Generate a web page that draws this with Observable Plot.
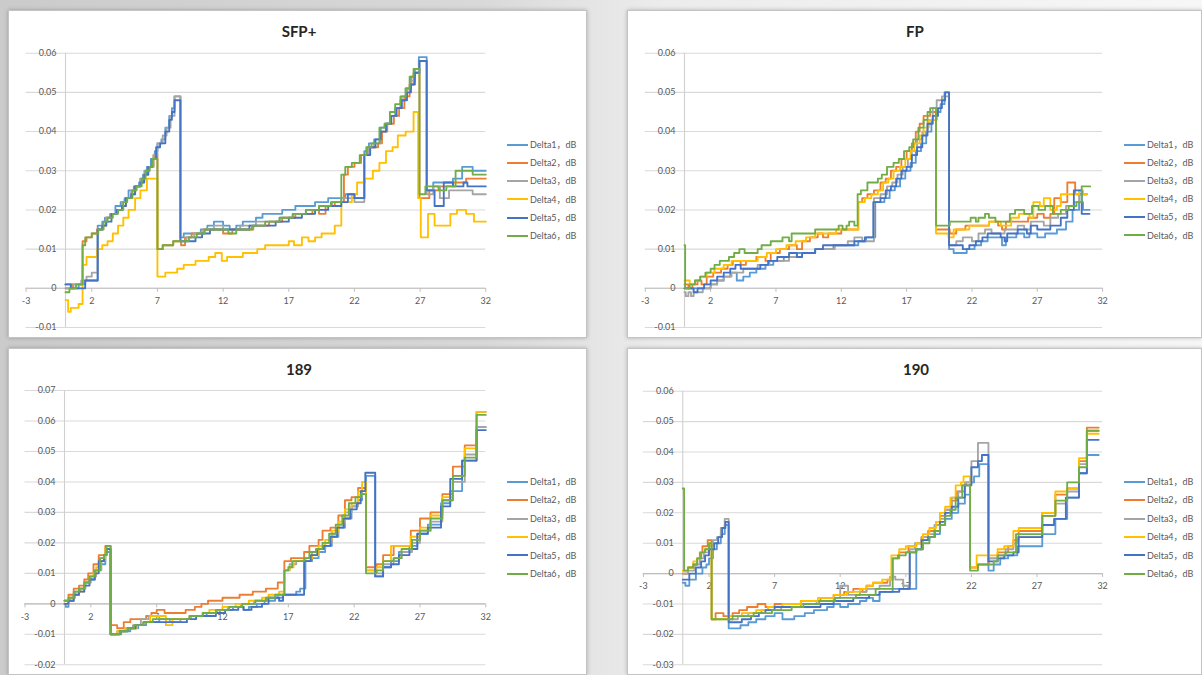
<!DOCTYPE html>
<html>
<head>
<meta charset="utf-8">
<script src="https://cdn.jsdelivr.net/npm/d3@7"></script>
<script src="https://cdn.jsdelivr.net/npm/@observablehq/plot@0.6"></script>
<style>
  html, body { margin: 0; padding: 0; }
  body {
    width: 1202px; height: 675px; overflow: hidden; position: relative;
    background: linear-gradient(to right, #cbcbcb 0%, #d9d9d9 40%, #ececec 55%, #f7f7f7 100%);
    font-family: Lato, "Noto Sans CJK SC", sans-serif;
  }
  .panel {
    position: absolute; background: #ffffff;
    border: 1px solid #c4c4c4;
    box-shadow: 0 0 4px rgba(0,0,0,0.25);
    box-sizing: border-box; overflow: hidden;
  }
  .panel svg { position: absolute; left: 0; top: 0; }
  .title {
    position: absolute; transform: translate(-50%, -50%);
    font-weight: bold; font-size: 15px; color: #262626; white-space: nowrap;
  }
  .leg { position: absolute; font-size: 9px; color: #595959; white-space: nowrap; line-height: 10px; }
  .leg span.sw { display: inline-block; width: 21px; height: 2px; vertical-align: middle; margin-right: 2px; position: relative; top: -1px; }
</style>
</head>
<body>
<script>
// ---------- shared ----------
const xTicks = [-3, 2, 7, 12, 17, 22, 27, 32];
const seriesNames = ["Delta1，dB", "Delta2，dB", "Delta3，dB", "Delta4，dB", "Delta5，dB", "Delta6，dB"];
const seriesColors = ["#5B9BD5", "#ED7D31", "#A5A5A5", "#FFC000", "#4472C4", "#70AD47"];

// ---------- SFP+ ----------
const sfpTitle = "SFP+";
const sfpYTicks = [-0.01, 0, 0.01, 0.02, 0.03, 0.04, 0.05, 0.06];
const sfpD1 = [[0,0.001],[0.5,0.0],[1.0,0.001],[1.5,0.002],[2.45,0.016],[2.8,0.017],[3.0,0.018],[3.4,0.019],[3.8,0.021],[4.2,0.022],[4.5,0.023],[4.8,0.025],[5.2,0.026],[5.6,0.027],[5.9,0.029],[6.2,0.031],[6.5,0.033],[6.8,0.035],[7.0,0.037],[7.3,0.038],[7.6,0.041],[7.9,0.044],[8.1,0.046],[8.3,0.049],[8.75,0.013],[9.0,0.014],[10.3,0.015],[10.8,0.016],[11.3,0.017],[12.0,0.016],[12.5,0.015],[13.0,0.016],[13.5,0.017],[14.5,0.018],[15.0,0.019],[16.5,0.020],[17.5,0.021],[19.0,0.022],[20.0,0.023],[21.3,0.024],[22.0,0.023],[22.75,0.035],[23.1,0.037],[23.5,0.038],[24.0,0.041],[24.3,0.042],[24.7,0.044],[25.1,0.046],[25.5,0.048],[25.9,0.051],[26.3,0.054],[26.6,0.056],[26.9,0.059],[27.5,0.025],[28.0,0.027],[29.5,0.028],[30.2,0.031],[31.0,0.030],[32,0.030]];
const sfpD2 = [[0,0.0],[0.5,0.001],[1.3,0.012],[1.6,0.013],[2.0,0.014],[2.4,0.015],[2.8,0.016],[3.1,0.018],[3.5,0.019],[3.9,0.020],[4.3,0.021],[4.6,0.023],[5.0,0.024],[5.3,0.026],[5.7,0.028],[6.0,0.029],[6.3,0.031],[6.7,0.034],[7.0,0.010],[7.4,0.011],[8.2,0.012],[8.8,0.011],[9.1,0.013],[9.6,0.014],[10.5,0.015],[12.0,0.014],[12.7,0.015],[14.3,0.016],[15.5,0.017],[16.5,0.018],[17.5,0.019],[18.8,0.020],[19.3,0.019],[19.8,0.021],[20.5,0.022],[21.2,0.029],[21.5,0.031],[22.0,0.032],[22.5,0.034],[23.0,0.036],[23.8,0.037],[24.1,0.040],[24.5,0.042],[25.0,0.044],[25.4,0.046],[25.8,0.049],[26.2,0.052],[26.5,0.055],[26.95,0.023],[27.7,0.025],[28.5,0.026],[29.5,0.027],[30.5,0.028],[32,0.028]];
const sfpD3 = [[0,0.0],[0.6,0.001],[1.2,0.002],[1.6,0.003],[2.0,0.004],[2.45,0.015],[2.8,0.016],[3.1,0.018],[3.5,0.019],[3.9,0.020],[4.3,0.022],[4.6,0.023],[5.0,0.025],[5.4,0.026],[5.7,0.028],[6.0,0.030],[6.4,0.031],[6.7,0.034],[7.0,0.037],[7.4,0.039],[7.7,0.041],[8.0,0.044],[8.3,0.049],[8.75,0.012],[9.2,0.013],[9.8,0.014],[10.5,0.015],[11.3,0.016],[12.0,0.015],[13.3,0.016],[14.5,0.017],[16.3,0.018],[17.3,0.019],[18.3,0.020],[19.3,0.021],[20.3,0.022],[21.0,0.023],[22.0,0.022],[22.75,0.034],[23.1,0.036],[23.5,0.037],[24.0,0.040],[24.4,0.042],[24.8,0.044],[25.2,0.046],[25.6,0.049],[26.0,0.051],[26.3,0.053],[26.6,0.055],[26.95,0.058],[27.5,0.024],[28.0,0.026],[28.5,0.023],[29.2,0.025],[31.0,0.024],[32,0.024]];
const sfpD4 = [[0,-0.003],[0.2,-0.006],[0.4,-0.005],[1.0,-0.004],[1.3,0.006],[1.6,0.008],[2.4,0.010],[2.8,0.011],[3.2,0.012],[3.6,0.014],[4.0,0.016],[4.4,0.018],[4.8,0.020],[5.3,0.023],[5.7,0.025],[6.2,0.028],[7.0,0.003],[7.6,0.004],[8.5,0.005],[9.0,0.006],[9.9,0.007],[10.9,0.008],[11.4,0.009],[11.9,0.007],[12.3,0.008],[13.5,0.009],[14.6,0.010],[15.2,0.011],[16.2,0.011],[17.0,0.012],[17.4,0.011],[18.0,0.013],[18.5,0.012],[19.0,0.013],[19.5,0.014],[20.5,0.016],[21.0,0.022],[21.8,0.024],[22.2,0.027],[22.8,0.028],[23.4,0.030],[23.9,0.032],[24.4,0.035],[24.9,0.036],[25.3,0.039],[25.9,0.040],[26.5,0.045],[26.85,0.023],[27.05,0.013],[27.6,0.019],[28.1,0.016],[29.3,0.019],[29.8,0.020],[30.5,0.019],[31.1,0.017],[32,0.017]];
const sfpD5 = [[0,0.001],[0.4,0.0],[1.5,0.002],[2.45,0.015],[2.8,0.016],[3.1,0.017],[3.5,0.019],[3.9,0.020],[4.3,0.021],[4.6,0.023],[5.0,0.024],[5.3,0.026],[5.7,0.027],[6.0,0.029],[6.3,0.031],[6.6,0.033],[6.9,0.036],[7.2,0.037],[7.6,0.040],[7.9,0.043],[8.1,0.045],[8.3,0.048],[8.75,0.012],[9.9,0.013],[10.4,0.014],[11.0,0.015],[14.0,0.016],[16.0,0.017],[17.0,0.018],[18.0,0.019],[19.0,0.020],[20.0,0.021],[21.0,0.022],[21.5,0.024],[22.0,0.023],[22.75,0.034],[23.2,0.036],[23.6,0.038],[24.0,0.040],[24.4,0.042],[24.8,0.044],[25.2,0.046],[25.6,0.048],[26.0,0.050],[26.3,0.052],[26.6,0.055],[26.95,0.058],[27.5,0.025],[28.1,0.021],[28.8,0.027],[29.5,0.026],[30.3,0.027],[30.6,0.026],[32,0.026]];
const sfpD6 = [[0,-0.001],[0.3,0.0],[0.8,0.001],[1.3,0.011],[1.5,0.013],[2.0,0.014],[2.5,0.015],[2.9,0.017],[3.2,0.018],[3.6,0.019],[4.0,0.020],[4.4,0.022],[4.7,0.023],[5.1,0.025],[5.4,0.026],[5.8,0.028],[6.1,0.030],[6.4,0.031],[6.6,0.033],[7.0,0.010],[7.4,0.011],[8.2,0.012],[9.4,0.013],[10.0,0.014],[10.6,0.015],[12.4,0.014],[13.0,0.015],[14.2,0.016],[15.2,0.017],[16.3,0.018],[17.3,0.019],[18.3,0.020],[19.3,0.021],[20.2,0.022],[21.0,0.029],[21.3,0.031],[21.8,0.032],[22.4,0.034],[22.9,0.036],[23.3,0.037],[23.9,0.041],[24.3,0.042],[24.7,0.045],[25.1,0.047],[25.5,0.049],[25.9,0.051],[26.2,0.054],[26.5,0.056],[26.95,0.024],[27.4,0.026],[28.4,0.025],[29.0,0.026],[29.7,0.030],[31.0,0.029],[32,0.029]];

// ---------- FP ----------
const fpTitle = "FP";
const fpYTicks = [-0.01, 0, 0.01, 0.02, 0.03, 0.04, 0.05, 0.06];
const fpD1 = [[0,0.0],[2.0,0.001],[2.5,0.002],[3.0,0.003],[3.5,0.004],[4.0,0.002],[4.5,0.003],[5.0,0.004],[5.5,0.005],[6.2,0.006],[6.8,0.007],[7.6,0.008],[8.6,0.009],[10.0,0.010],[11.4,0.011],[13.3,0.012],[13.9,0.013],[14.6,0.022],[15.3,0.023],[15.7,0.025],[16.1,0.026],[16.5,0.028],[16.9,0.030],[17.3,0.032],[17.7,0.035],[18.1,0.037],[18.5,0.040],[18.9,0.043],[19.3,0.045],[19.6,0.047],[19.9,0.050],[20.25,0.010],[20.6,0.009],[21.6,0.010],[22.2,0.011],[22.7,0.012],[23.2,0.013],[24.3,0.011],[24.6,0.013],[25.4,0.014],[26.0,0.013],[26.4,0.014],[27.0,0.013],[27.6,0.014],[28.5,0.015],[29.2,0.017],[29.7,0.020],[30.2,0.022],[30.5,0.020],[31.0,0.020]];
const fpD2 = [[0,0.001],[0.3,0.0],[0.6,0.001],[1.0,0.002],[1.3,0.001],[1.7,0.003],[2.2,0.004],[2.8,0.005],[3.3,0.006],[3.7,0.007],[4.3,0.006],[4.7,0.007],[5.5,0.008],[6.2,0.007],[6.6,0.009],[7.3,0.010],[8.0,0.011],[8.6,0.010],[9.0,0.012],[9.6,0.013],[10.2,0.014],[10.6,0.013],[11.0,0.014],[12.0,0.015],[13.3,0.022],[13.6,0.023],[14.0,0.024],[14.5,0.025],[15.0,0.027],[15.4,0.028],[15.8,0.030],[16.2,0.031],[16.6,0.033],[17.0,0.035],[17.4,0.037],[17.7,0.040],[18.0,0.042],[18.3,0.044],[18.8,0.045],[19.25,0.015],[20.3,0.014],[20.8,0.015],[21.5,0.016],[23.3,0.017],[24.0,0.016],[24.3,0.015],[24.6,0.017],[26.3,0.018],[27.0,0.019],[27.5,0.018],[28.0,0.019],[28.3,0.023],[28.8,0.022],[29.3,0.027],[29.9,0.024],[30.8,0.024]];
const fpD3 = [[0,-0.001],[0.1,-0.002],[0.3,-0.001],[0.5,-0.002],[0.7,-0.001],[1.4,0.0],[2.0,0.001],[2.5,0.002],[3.0,0.003],[3.6,0.004],[4.5,0.005],[5.6,0.006],[6.5,0.007],[8.0,0.008],[9.0,0.009],[10.0,0.010],[11.5,0.011],[12.5,0.012],[13.0,0.013],[13.6,0.012],[14.5,0.023],[15.0,0.024],[15.5,0.026],[15.9,0.027],[16.3,0.029],[16.7,0.031],[17.1,0.033],[17.4,0.035],[17.8,0.038],[18.2,0.040],[18.6,0.043],[19.0,0.046],[19.3,0.048],[19.7,0.049],[20.25,0.011],[20.8,0.012],[21.3,0.013],[22.0,0.012],[22.5,0.014],[23.0,0.015],[23.5,0.014],[24.5,0.015],[25.5,0.016],[26.0,0.015],[26.5,0.017],[27.5,0.016],[28.0,0.018],[28.6,0.019],[29.2,0.021],[29.8,0.022],[30.2,0.024],[30.8,0.024]];
const fpD4 = [[0,0.002],[0.4,0.001],[0.8,0.002],[1.2,0.003],[1.7,0.004],[2.3,0.005],[3.0,0.006],[3.6,0.007],[5.6,0.008],[6.3,0.009],[7.0,0.010],[7.8,0.011],[8.5,0.012],[9.3,0.013],[10.0,0.014],[11.6,0.015],[13.3,0.022],[13.8,0.023],[14.3,0.024],[14.8,0.025],[15.2,0.027],[15.6,0.028],[16.0,0.030],[16.5,0.031],[16.9,0.033],[17.3,0.035],[17.6,0.037],[18.0,0.039],[18.3,0.041],[18.7,0.043],[19.25,0.014],[20.2,0.013],[20.6,0.015],[21.8,0.016],[23.3,0.017],[24.2,0.016],[25.0,0.018],[25.6,0.019],[26.4,0.018],[26.7,0.022],[27.2,0.021],[27.5,0.023],[28.0,0.020],[28.5,0.021],[28.8,0.024],[30.2,0.025],[30.5,0.024],[30.8,0.024]];
const fpD5 = [[0,0.0],[0.7,-0.001],[1.0,0.0],[1.5,0.001],[2.0,0.002],[2.5,0.003],[3.0,0.004],[3.5,0.005],[3.9,0.006],[4.3,0.005],[5.8,0.006],[6.4,0.007],[7.1,0.008],[8.0,0.009],[8.6,0.008],[9.0,0.009],[10.0,0.010],[10.6,0.011],[13.0,0.012],[13.8,0.013],[14.45,0.022],[15.0,0.023],[15.4,0.025],[15.8,0.026],[16.2,0.028],[16.6,0.030],[17.0,0.031],[17.4,0.034],[17.8,0.036],[18.2,0.039],[18.6,0.042],[19.0,0.044],[19.4,0.046],[19.7,0.048],[19.95,0.050],[20.25,0.011],[21.3,0.010],[21.8,0.011],[22.3,0.012],[22.8,0.013],[23.2,0.014],[24.2,0.013],[24.5,0.012],[24.7,0.014],[25.5,0.015],[26.2,0.014],[26.5,0.016],[27.0,0.015],[28.0,0.016],[28.8,0.018],[29.3,0.020],[29.8,0.025],[30.4,0.019],[31.0,0.019]];
const fpD6 = [[0,0.011],[0.05,0.0],[0.4,0.001],[0.8,0.002],[1.2,0.003],[1.6,0.004],[2.0,0.005],[2.3,0.006],[2.7,0.007],[3.4,0.008],[3.8,0.009],[4.2,0.010],[4.6,0.009],[5.6,0.010],[5.9,0.011],[6.6,0.012],[7.5,0.013],[8.0,0.012],[8.2,0.014],[10.0,0.015],[11.8,0.016],[12.1,0.015],[12.4,0.016],[12.6,0.017],[13.0,0.016],[13.25,0.024],[13.5,0.025],[14.0,0.027],[14.8,0.028],[15.1,0.029],[15.5,0.031],[16.0,0.032],[16.4,0.033],[16.8,0.035],[17.2,0.036],[17.5,0.038],[17.9,0.041],[18.3,0.043],[18.6,0.045],[18.8,0.046],[19.25,0.016],[20.3,0.017],[21.9,0.018],[22.3,0.017],[22.5,0.018],[23.0,0.019],[23.3,0.018],[23.8,0.017],[24.9,0.019],[25.3,0.020],[26.0,0.019],[26.6,0.021],[27.1,0.020],[27.6,0.021],[28.2,0.019],[28.8,0.020],[29.4,0.021],[30.0,0.022],[30.4,0.026],[31.05,0.026]];

// ---------- 189 ----------
const b189Title = "189";
const b189YTicks = [-0.02, -0.01, 0, 0.01, 0.02, 0.03, 0.04, 0.05, 0.06, 0.07];
const b189D1 = [[0,0.0],[0.1,-0.001],[0.3,0.001],[0.7,0.003],[1.1,0.005],[1.5,0.007],[1.9,0.008],[2.3,0.011],[2.7,0.013],[3.1,0.017],[3.5,-0.010],[4.3,-0.009],[5.0,-0.008],[5.6,-0.007],[6.2,-0.006],[7.2,-0.005],[9.5,-0.004],[10.8,-0.003],[11.8,-0.002],[12.8,-0.001],[13.6,-0.002],[14.0,-0.001],[14.6,0.0],[15.2,0.001],[16.0,0.002],[16.6,0.003],[17.6,0.004],[17.9,0.005],[18.3,0.014],[18.8,0.015],[19.3,0.017],[19.8,0.019],[20.3,0.022],[20.8,0.025],[21.3,0.028],[21.8,0.032],[22.3,0.034],[22.6,0.036],[22.9,0.042],[23.6,0.009],[24.2,0.012],[24.8,0.014],[25.4,0.017],[26.2,0.019],[26.8,0.023],[27.6,0.026],[28.6,0.033],[29.3,0.037],[30.2,0.047],[31.3,0.058],[32,0.058]];
const b189D2 = [[0,0.001],[0.3,0.003],[0.7,0.005],[1.1,0.006],[1.5,0.008],[1.8,0.010],[2.2,0.013],[2.6,0.016],[3.1,0.019],[3.5,-0.007],[4.0,-0.008],[4.5,-0.006],[5.0,-0.005],[6.2,-0.004],[6.6,-0.003],[7.0,-0.002],[7.6,-0.003],[9.2,-0.002],[9.9,-0.001],[10.4,0.0],[10.9,0.001],[12.0,0.002],[13.3,0.003],[14.3,0.004],[15.3,0.005],[16.2,0.007],[16.7,0.014],[17.2,0.015],[18.2,0.017],[18.6,0.019],[19.3,0.021],[19.6,0.024],[20.2,0.025],[20.8,0.029],[21.3,0.034],[21.8,0.035],[22.3,0.038],[22.9,0.012],[23.7,0.013],[24.2,0.016],[25.0,0.019],[26.3,0.024],[27.0,0.028],[27.8,0.030],[28.7,0.036],[29.5,0.045],[30.4,0.052],[31.3,0.063],[32,0.063]];
const b189D3 = [[0,0.001],[0.4,0.002],[0.8,0.004],[1.2,0.005],[1.6,0.007],[2.0,0.009],[2.4,0.011],[2.8,0.014],[3.1,0.018],[3.5,-0.010],[4.0,-0.009],[4.6,-0.008],[5.2,-0.007],[5.8,-0.005],[6.4,-0.004],[7.2,-0.005],[8.0,-0.006],[8.8,-0.005],[9.6,-0.004],[10.5,-0.003],[11.6,-0.002],[12.4,-0.001],[13.4,0.0],[14.4,0.001],[15.4,0.002],[16.2,0.003],[16.7,0.011],[17.1,0.013],[17.6,0.014],[18.3,0.015],[18.8,0.017],[19.3,0.018],[19.8,0.020],[20.3,0.023],[20.8,0.026],[21.3,0.030],[21.8,0.032],[22.3,0.035],[22.6,0.037],[22.9,0.011],[23.7,0.010],[24.2,0.013],[25.0,0.015],[25.6,0.017],[26.4,0.020],[27.0,0.024],[27.8,0.027],[28.7,0.034],[29.5,0.040],[30.4,0.049],[31.3,0.058],[32,0.058]];
const b189D4 = [[0,0.0],[0.3,0.002],[0.7,0.003],[1.1,0.004],[1.5,0.007],[1.9,0.009],[2.2,0.010],[2.4,0.012],[2.7,0.015],[3.1,0.018],[3.5,-0.010],[4.0,-0.009],[4.6,-0.008],[5.5,-0.007],[6.0,-0.006],[6.5,-0.004],[7.7,-0.007],[8.2,-0.005],[9.5,-0.004],[10.5,-0.003],[11.0,-0.002],[12.0,-0.001],[13.0,0.0],[14.0,0.001],[15.0,0.002],[15.5,0.003],[16.3,0.004],[16.7,0.011],[17.1,0.012],[17.4,0.014],[18.3,0.015],[18.8,0.016],[19.3,0.019],[19.8,0.021],[20.3,0.024],[20.8,0.027],[21.3,0.031],[21.8,0.033],[22.3,0.037],[22.6,0.040],[22.9,0.011],[23.7,0.012],[24.2,0.014],[24.8,0.019],[26.3,0.022],[27.0,0.025],[27.8,0.029],[28.7,0.035],[29.5,0.042],[30.4,0.051],[31.3,0.063],[32,0.063]];
const b189D5 = [[0,0.0],[0.3,0.001],[0.7,0.003],[1.1,0.004],[1.5,0.006],[1.9,0.008],[2.3,0.010],[2.6,0.014],[3.0,0.016],[3.2,0.018],[3.5,-0.010],[4.2,-0.009],[4.8,-0.008],[5.4,-0.007],[6.0,-0.006],[9.3,-0.005],[10.0,-0.004],[11.5,-0.003],[12.2,-0.002],[13.2,-0.001],[13.6,-0.002],[14.2,-0.001],[15.0,0.0],[15.5,0.002],[16.3,0.001],[16.6,0.003],[18.2,0.014],[18.7,0.016],[19.2,0.018],[19.7,0.019],[20.2,0.022],[20.7,0.025],[21.2,0.028],[21.7,0.031],[22.2,0.033],[22.5,0.037],[22.85,0.043],[23.6,0.009],[24.2,0.012],[24.8,0.013],[25.4,0.016],[26.2,0.018],[26.8,0.023],[27.6,0.025],[28.6,0.032],[29.3,0.041],[30.2,0.047],[31.3,0.057],[32,0.057]];
const b189D6 = [[0,0.001],[0.3,0.002],[0.7,0.004],[1.1,0.005],[1.5,0.007],[1.9,0.009],[2.3,0.011],[2.7,0.015],[3.0,0.016],[3.2,0.019],[3.5,-0.010],[4.2,-0.009],[4.8,-0.008],[5.3,-0.007],[6.0,-0.006],[6.7,-0.005],[9.5,-0.004],[10.5,-0.003],[11.5,-0.002],[12.5,-0.001],[13.5,0.0],[14.5,0.001],[15.3,0.002],[16.0,0.003],[16.7,0.011],[17.0,0.012],[17.3,0.014],[18.2,0.015],[18.6,0.017],[19.1,0.018],[19.6,0.020],[20.1,0.023],[20.6,0.026],[21.1,0.029],[21.6,0.033],[22.1,0.035],[22.5,0.036],[22.9,0.010],[23.7,0.011],[24.2,0.014],[25.0,0.015],[25.6,0.018],[26.4,0.021],[27.0,0.024],[27.8,0.028],[28.7,0.034],[29.5,0.042],[30.4,0.048],[31.3,0.062],[32,0.062]];

// ---------- 190 ----------
const b190Title = "190";
const b190YTicks = [-0.03, -0.02, -0.01, 0, 0.01, 0.02, 0.03, 0.04, 0.05, 0.06];
const b190D1 = [[0,-0.003],[0.2,-0.004],[0.5,-0.002],[1.0,0.0],[1.5,0.002],[1.8,0.003],[2.0,0.005],[2.3,0.008],[2.6,0.010],[2.9,0.013],[3.2,0.016],[3.5,-0.018],[4.4,-0.017],[5.0,-0.016],[5.6,-0.015],[6.3,-0.014],[7.0,-0.013],[7.6,-0.015],[8.5,-0.014],[9.3,-0.013],[10.0,-0.012],[11.0,-0.011],[11.5,-0.010],[12.0,-0.011],[12.6,-0.010],[13.5,-0.009],[14.0,-0.008],[14.5,-0.009],[15.0,-0.006],[16.0,-0.005],[17.8,0.008],[18.3,0.011],[18.8,0.012],[19.2,0.013],[19.6,0.016],[20.0,0.018],[20.5,0.020],[21.0,0.023],[21.5,0.026],[21.9,0.030],[22.2,0.032],[22.6,0.036],[23.3,0.001],[23.7,0.003],[24.2,0.005],[24.8,0.006],[25.5,0.009],[27.4,0.013],[28.4,0.018],[29.3,0.025],[30.2,0.033],[30.8,0.039],[31.7,0.039]];
const b190D2 = [[0,0.0],[0.4,0.002],[0.8,0.003],[1.1,0.005],[1.3,0.007],[1.5,0.009],[1.9,0.011],[2.2,-0.015],[2.5,-0.013],[3.1,-0.014],[3.8,-0.013],[4.3,-0.012],[4.9,-0.011],[5.7,-0.010],[6.3,-0.011],[7.0,-0.010],[9.0,-0.009],[10.5,-0.008],[11.5,-0.007],[12.3,-0.006],[13.0,-0.005],[13.7,-0.006],[14.0,-0.004],[14.5,-0.003],[15.6,-0.002],[16.0,0.005],[16.5,0.007],[17.2,0.009],[17.8,0.010],[18.2,0.012],[18.7,0.014],[19.2,0.016],[19.6,0.019],[20.0,0.021],[20.5,0.024],[20.9,0.027],[21.3,0.029],[21.6,0.030],[21.9,0.002],[22.5,0.003],[23.3,0.005],[24.0,0.007],[24.8,0.009],[25.2,0.011],[25.6,0.014],[27.4,0.019],[28.4,0.026],[29.3,0.028],[30.2,0.037],[30.8,0.048],[31.7,0.048]];
const b190D3 = [[0,0.0],[0.4,0.001],[0.9,0.003],[1.3,0.005],[1.6,0.007],[2.0,0.009],[2.3,0.011],[2.6,0.012],[2.9,0.015],[3.2,0.018],[3.5,-0.015],[4.2,-0.014],[5.0,-0.013],[6.0,-0.012],[7.5,-0.011],[9.0,-0.010],[10.2,-0.009],[11.5,-0.008],[12.0,-0.004],[12.6,-0.007],[13.5,-0.006],[14.0,-0.005],[15.0,-0.004],[15.8,-0.001],[16.2,-0.002],[16.8,-0.004],[17.3,0.008],[17.7,0.010],[18.2,0.012],[18.7,0.013],[19.2,0.016],[19.6,0.018],[20.0,0.021],[20.5,0.025],[21.0,0.027],[21.5,0.030],[22.0,0.037],[22.5,0.043],[23.3,0.005],[24.0,0.006],[24.6,0.008],[25.2,0.010],[25.5,0.012],[27.4,0.020],[28.4,0.023],[29.3,0.027],[30.2,0.036],[30.8,0.047],[31.7,0.047]];
const b190D4 = [[0,0.001],[0.4,0.002],[0.8,0.004],[1.1,0.005],[1.4,0.007],[1.7,0.008],[2.0,0.010],[2.2,-0.015],[3.5,-0.014],[4.5,-0.013],[5.6,-0.012],[6.5,-0.011],[7.6,-0.010],[9.0,-0.009],[10.3,-0.008],[11.5,-0.007],[12.5,-0.006],[13.5,-0.005],[14.0,-0.004],[14.5,-0.003],[15.2,-0.002],[15.9,0.006],[16.5,0.008],[17.0,0.009],[17.8,0.010],[18.3,0.013],[18.8,0.015],[19.3,0.017],[19.6,0.020],[20.0,0.022],[20.4,0.025],[20.8,0.029],[21.2,0.030],[21.4,0.032],[21.9,0.002],[22.4,0.006],[24.0,0.008],[24.5,0.009],[25.2,0.014],[25.6,0.015],[27.4,0.020],[28.4,0.027],[29.3,0.028],[30.2,0.038],[30.8,0.046],[31.7,0.046]];
const b190D5 = [[0,-0.002],[0.5,0.0],[1.0,0.002],[1.4,0.004],[1.7,0.006],[2.0,0.008],[2.4,0.010],[2.7,0.012],[3.0,0.015],[3.25,0.017],[3.5,-0.016],[4.5,-0.015],[5.2,-0.014],[5.8,-0.013],[6.3,-0.012],[7.0,-0.011],[10.5,-0.010],[11.5,-0.009],[13.0,-0.008],[14.2,-0.007],[15.0,-0.006],[16.5,-0.005],[17.3,0.007],[17.8,0.008],[18.2,0.011],[18.7,0.012],[19.2,0.014],[19.6,0.017],[20.0,0.020],[20.5,0.022],[21.0,0.025],[21.5,0.029],[22.0,0.035],[22.5,0.037],[22.8,0.039],[23.3,0.004],[24.0,0.005],[24.5,0.006],[25.2,0.007],[25.6,0.012],[27.4,0.016],[28.3,0.018],[29.2,0.025],[30.2,0.033],[30.8,0.044],[31.7,0.044]];
const b190D6 = [[0,0.028],[0.1,0.001],[0.4,0.002],[0.8,0.003],[1.1,0.005],[1.4,0.007],[1.7,0.008],[2.0,0.010],[2.2,-0.015],[3.8,-0.014],[5.4,-0.013],[6.8,-0.012],[8.3,-0.011],[9.2,-0.010],[10.4,-0.009],[11.6,-0.008],[13.2,-0.007],[14.7,-0.005],[16.0,0.005],[16.4,0.006],[17.0,0.007],[17.8,0.008],[18.3,0.010],[18.8,0.012],[19.2,0.014],[19.6,0.016],[20.0,0.019],[20.4,0.021],[20.8,0.025],[21.3,0.029],[21.9,0.001],[22.5,0.003],[23.7,0.004],[24.0,0.006],[24.6,0.007],[25.4,0.013],[27.4,0.019],[28.4,0.024],[29.3,0.030],[30.2,0.035],[30.8,0.047],[31.7,0.047]];

// ---------- layout ----------
const panels = [
  {title: sfpTitle, yTicks: sfpYTicks, series: [sfpD1, sfpD2, sfpD3, sfpD4, sfpD5, sfpD6],
   left: 8, top: 10, w: 579, h: 328, mL: 17.6, mR: 101.7, mT: 42.7, mB: 11, tx: 290, ty: 20, legY: 134, legX: 498, legDY: 18.2},
  {title: fpTitle, yTicks: fpYTicks, series: [fpD1, fpD2, fpD3, fpD4, fpD5, fpD6],
   left: 627, top: 10, w: 575, h: 328, mL: 17.8, mR: 99.9, mT: 42.7, mB: 11, tx: 287, ty: 20, legY: 134, legX: 496, legDY: 18.1},
  {title: b189Title, yTicks: b189YTicks, series: [b189D1, b189D2, b189D3, b189D4, b189D5, b189D6],
   left: 8, top: 348, w: 579, h: 327, mL: 16.5, mR: 101.7, mT: 42, mB: 10.7, tx: 290, ty: 19.5, legY: 133, legX: 498, legDY: 18.4},
  {title: b190Title, yTicks: b190YTicks, series: [b190D1, b190D2, b190D3, b190D4, b190D5, b190D6],
   left: 627, top: 348, w: 575, h: 327, mL: 15.9, mR: 99.9, mT: 42.7, mB: 10.7, tx: 288, ty: 19.5, legY: 133, legX: 496, legDY: 18.4}
];

for (const p of panels) {
  const div = document.createElement("div");
  div.className = "panel";
  div.style.left = p.left + "px"; div.style.top = p.top + "px";
  div.style.width = p.w + "px"; div.style.height = p.h + "px";
  document.body.appendChild(div);

  const yDom = [d3.min(p.yTicks), d3.max(p.yTicks)];
  const pxPerUnit = (p.h - p.mT - p.mB) / (yDom[1] - yDom[0]);
  const tickLen = 4 / pxPerUnit;

  const rows = [];
  p.series.forEach((s, i) => s.forEach(([x, y]) => rows.push({x, y, series: seriesNames[i]})));

  const chart = Plot.plot({
    width: p.w - 2, height: p.h - 2,
    marginLeft: p.mL - 1, marginRight: p.mR - 1, marginTop: p.mT - 1, marginBottom: p.mB - 1,
    x: {domain: [-3, 32], axis: null},
    y: {domain: yDom, axis: null},
    color: {domain: seriesNames, range: seriesColors},
    style: {background: "transparent", fontFamily: "Lato, 'Noto Sans CJK SC', sans-serif", fontSize: "9px", overflow: "visible"},
    marks: [
      Plot.ruleY(p.yTicks, {stroke: "#d9d9d9", strokeWidth: 1.1}),
      Plot.ruleY([0], {stroke: "#bfbfbf", strokeWidth: 1.1}),
      Plot.ruleX([0], {stroke: "#d0d0d0", strokeWidth: 1.1}),
      Plot.ruleX(xTicks, {x: d => d, y1: 0, y2: -tickLen, stroke: "#bfbfbf"}),
      Plot.text(p.yTicks, {x: 0, y: d => d, text: d => String(d), textAnchor: "end", dx: -9, fill: "#595959"}),
      Plot.text(xTicks, {x: d => d, y: 0, text: d => String(d), dy: 13, fill: "#595959"}),
      Plot.line(rows, {x: "x", y: "y", z: "series", stroke: "series", curve: "step-after", strokeWidth: 1.85})
    ]
  });
  div.appendChild(chart);

  const t = document.createElement("div");
  t.className = "title"; t.textContent = p.title;
  t.style.left = p.tx + "px"; t.style.top = p.ty + "px";
  div.appendChild(t);

  seriesNames.forEach((name, i) => {
    const l = document.createElement("div");
    l.className = "leg";
    l.style.left = p.legX + "px";
    l.style.top = (p.legY + i * p.legDY - 5) + "px";
    l.innerHTML = `<span class="sw" style="background:${seriesColors[i]}"></span>${name}`;
    div.appendChild(l);
  });
}
</script>
</body>
</html>
